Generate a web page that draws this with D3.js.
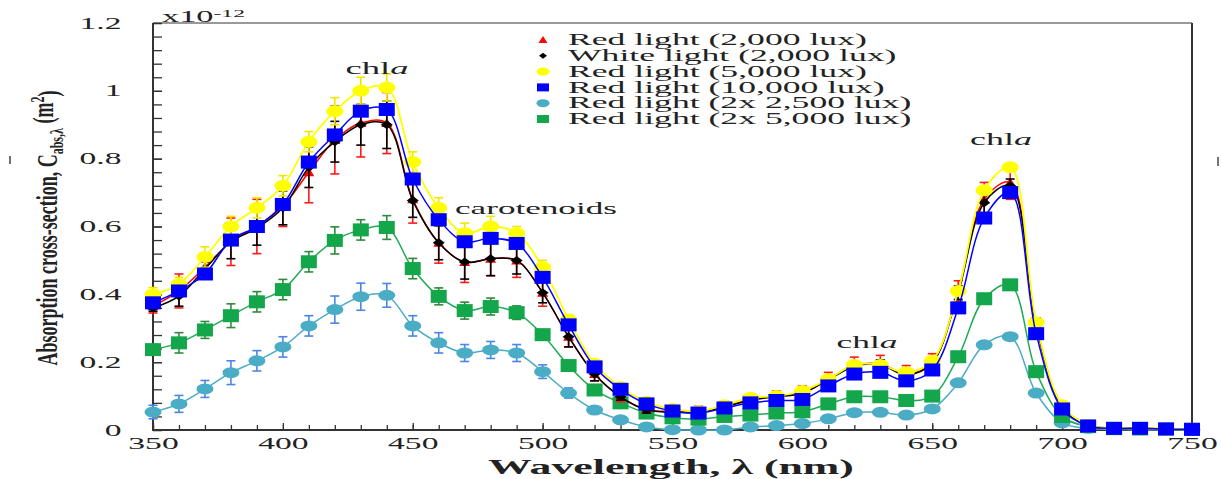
<!DOCTYPE html>
<html>
<head>
<meta charset="utf-8">
<script src="https://cdn.jsdelivr.net/npm/d3@7"></script>
<style>
  body { margin: 0; background: #fff; }
  text { font-family: "Liberation Serif", "Times New Roman", serif; fill: #222; }
</style>
</head>
<body>
<svg id="chart" width="1221" height="479"></svg>
<script>
// wavelengths (nm)
const wavelengths = [350,360,370,380,390,400,410,420,430,440,450,460,470,480,490,500,510,520,530,540,
  550,560,570,580,590,600,610,620,630,640,650,660,670,680,690,700,710,720,730,740,750];

// absorption cross-section, x10^-12 m^2
const red2000 = [0.365,0.41,0.48,0.555,0.60,0.66,0.76,0.855,0.905,0.905,0.68,0.552,0.495,0.505,0.50,0.405,0.275,0.165,0.098,0.06,
  0.055,0.055,0.07,0.09,0.10,0.11,0.15,0.19,0.195,0.165,0.20,0.41,0.68,0.73,0.31,0.07,0.015,0.006,0.005,0.004,0.003];
const white2000 = [0.36,0.395,0.475,0.555,0.595,0.655,0.775,0.85,0.90,0.90,0.677,0.552,0.495,0.505,0.50,0.405,0.275,0.165,0.098,0.06,
  0.052,0.052,0.068,0.088,0.098,0.108,0.148,0.188,0.192,0.162,0.198,0.405,0.67,0.72,0.31,0.068,0.014,0.005,0.004,0.003,0.002];
const red5000 = [0.40,0.43,0.51,0.60,0.655,0.72,0.85,0.94,1.0,1.01,0.79,0.655,0.58,0.60,0.58,0.48,0.325,0.195,0.127,0.083,
  0.062,0.055,0.073,0.095,0.10,0.115,0.15,0.192,0.192,0.17,0.204,0.41,0.707,0.775,0.317,0.073,0.015,0.006,0.005,0.004,0.003];
const red10000 = [0.375,0.41,0.46,0.56,0.60,0.665,0.79,0.87,0.94,0.945,0.74,0.62,0.555,0.565,0.55,0.45,0.31,0.186,0.12,0.077,
  0.056,0.05,0.065,0.08,0.087,0.09,0.13,0.165,0.17,0.145,0.177,0.36,0.625,0.70,0.284,0.062,0.012,0.005,0.005,0.003,0.002];
const red2x2500 = [0.053,0.077,0.121,0.169,0.204,0.245,0.307,0.355,0.393,0.397,0.307,0.257,0.227,0.236,0.227,0.172,0.109,0.059,0.03,0.009,
  0.001,0.0,0.0,0.009,0.013,0.019,0.033,0.051,0.052,0.044,0.062,0.139,0.251,0.275,0.109,0.021,0.005,0.002,0.001,0.001,0.0];
const red2x5000 = [0.237,0.257,0.295,0.337,0.378,0.414,0.496,0.559,0.59,0.597,0.476,0.394,0.352,0.364,0.346,0.281,0.19,0.118,0.08,0.05,
  0.036,0.032,0.04,0.044,0.05,0.054,0.077,0.098,0.098,0.087,0.10,0.216,0.387,0.428,0.172,0.04,0.01,0.004,0.003,0.003,0.002];

// error bar half-widths
const red2000Err = [0.02,0.05,0.03,0.07,0.08,0.06,0.09,0.1,0.1,0.09,0.07,0.06,0.06,0.05,0.05,0.04,0.03,0.02,0.015,0.01,
  0.01,0.015,0.015,0.015,0.015,0.02,0.02,0.025,0.025,0.025,0.025,0.03,0.05,0.05,0.02,0.01,0.005,0.005,0.005,0.005,0.003];
const white2000Err = [0.01,0.03,0.02,0.05,0.05,0.05,0.06,0.06,0.06,0.07,0.05,0.05,0.05,0.05,0.04,0.03,0.03,0.02,0.01,0.01,
  0.01,0.01,0.01,0.01,0.01,0.01,0.01,0.015,0.015,0.01,0.01,0.02,0.03,0.02,0.02,0.01,0.005,0.005,0.005,0.005,0.003];
const red5000Err = [0.02,0.02,0.03,0.03,0.03,0.03,0.03,0.04,0.04,0.04,0.03,0.03,0.03,0.03,0.02,0.02,0.015,0.01,0.01,0.01,
  0.01,0.01,0.01,0.01,0.01,0.01,0.01,0.01,0.01,0.01,0.01,0.01,0.01,0.01,0.01,0.01,0.005,0.005,0.005,0.005,0.003];
const red10000Err = [0,0,0,0,0,0,0,0,0,0,0,0,0,0,0,0,0,0,0,0,
  0,0,0,0,0,0,0,0,0,0,0,0,0,0,0,0,0,0,0.01,0,0];
const red2x2500Err = [0.02,0.025,0.025,0.035,0.03,0.03,0.03,0.04,0.04,0.035,0.03,0.03,0.025,0.025,0.025,0.02,0.015,0.01,0,0,
  0,0,0,0,0,0,0,0,0,0,0,0,0,0,0,0,0,0,0,0,0];
const red2x5000Err = [0.01,0.03,0.025,0.035,0.03,0.03,0.03,0.04,0.03,0.035,0.03,0.025,0.025,0.025,0.02,0.015,0.01,0,0,0,
  0,0,0,0,0,0,0,0,0,0,0,0,0,0,0,0,0,0,0,0,0];

const legendLabels = ['Red light (2,000 lux)','White light (2,000 lux)','Red light (5,000 lux)',
  'Red light (10,000 lux)','Red light (2x 2,500 lux)','Red light (2x 5,000 lux)'];
const yTicks = [0,0.2,0.4,0.6,0.8,1,1.2];
const xTicks = [350,400,450,500,550,600,650,700,750];

const series = [
  { name: legendLabels[4], values: red2x2500, err: red2x2500Err, line: '#4bacc6', bar: '#4a86e8', fill: '#4bacc6', shape: 'ellipseS' },
  { name: legendLabels[5], values: red2x5000, err: red2x5000Err, line: '#1fab55', bar: '#2e8b3a', fill: '#14a64a', shape: 'rect' },
  { name: legendLabels[0], values: red2000, err: red2000Err, line: '#ff0000', bar: '#ff1a1a', fill: '#ff0000', shape: 'triangle' },
  { name: legendLabels[1], values: white2000, err: white2000Err, line: '#000000', bar: '#000000', fill: '#000000', shape: 'diamond' },
  { name: legendLabels[2], values: red5000, err: red5000Err, line: '#ffff00', bar: '#f2e600', fill: '#ffff00', shape: 'ellipse' },
  { name: legendLabels[3], values: red10000, err: red10000Err, line: '#0000ff', bar: '#0000ff', fill: '#0000ff', shape: 'rect' }
];

const svg = d3.select('#chart');
const x = d3.scaleLinear().domain([350, 750]).range([153, 1192]);
const y = d3.scaleLinear().domain([0, 1.2]).range([430, 23]);

// stretch a text horizontally (the figure is stretched wide)
function stretch(t, target) {
  let w = t.node().getBBox().width;
  let k = target / w;
  t.attr('transform', `scale(${k},1)`);
  return k;
}

// frame
svg.append('line').attr('x1', 153).attr('x2', 1192).attr('y1', 23).attr('y2', 23)
   .attr('stroke', '#777').attr('stroke-width', 1.5);
svg.append('line').attr('x1', 1192).attr('x2', 1192).attr('y1', 23).attr('y2', 430)
   .attr('stroke', '#333').attr('stroke-width', 2);

// y axis (ticks point inside)
let yMinor = svg.append('g').attr('transform', 'translate(153,0)')
  .call(d3.axisLeft(y).tickValues(d3.range(0, 31).map(i => i * 0.04)).tickSize(-9).tickFormat(''));
yMinor.select('.domain').remove();
yMinor.selectAll('line').attr('stroke', '#333').attr('stroke-width', 1.3);

let yAxis = svg.append('g').attr('transform', 'translate(153,0)')
  .call(d3.axisLeft(y).tickValues(yTicks).tickSize(-9).tickPadding(15)
          .tickFormat(d => String(+d.toFixed(1))));
yAxis.select('.domain').remove();
yAxis.selectAll('line').attr('stroke', '#333').attr('stroke-width', 1.3);
yAxis.selectAll('text').attr('font-size', 16).style('font-family', '"Liberation Serif", serif').attr('fill', '#333')
     .attr('transform', 'scale(2.1,1)');

// x axis
let xMinor = svg.append('g').attr('transform', 'translate(0,430)')
  .call(d3.axisBottom(x).tickValues(wavelengths).tickSize(-5).tickFormat(''));
xMinor.select('.domain').remove();
xMinor.selectAll('line').attr('stroke', '#333').attr('stroke-width', 1.3);

let xAxis = svg.append('g').attr('transform', 'translate(0,430)')
  .call(d3.axisBottom(x).tickValues(xTicks).tickSize(-7).tickPadding(8).tickFormat(d3.format('d')));
xAxis.select('.domain').remove();
xAxis.selectAll('line').attr('stroke', '#333').attr('stroke-width', 1.3);
xAxis.selectAll('text').attr('font-size', 16).style('font-family', '"Liberation Serif", serif').attr('fill', '#333')
     .attr('transform', 'scale(2.1,1)');

svg.append('line').attr('x1', 153).attr('x2', 153).attr('y1', 23).attr('y2', 431)
   .attr('stroke', '#333').attr('stroke-width', 2);
svg.append('line').attr('x1', 152).attr('x2', 1193).attr('y1', 430).attr('y2', 430)
   .attr('stroke', '#333').attr('stroke-width', 2);

// series
const lineGen = d3.line().x((d, i) => x(wavelengths[i])).y(d => y(d)).curve(d3.curveCatmullRom.alpha(0.5));

function drawMarker(g, shape, fill) {
  if (shape === 'triangle') g.append('path').attr('d', 'M0,-5L5.5,4L-5.5,4Z').attr('fill', fill);
  else if (shape === 'diamond') g.append('path').attr('d', 'M0,-4.5L6,0L0,4.5L-6,0Z').attr('fill', fill);
  else if (shape === 'ellipse') g.append('ellipse').attr('rx', 8.5).attr('ry', 6).attr('fill', fill);
  else if (shape === 'ellipseS') g.append('ellipse').attr('rx', 8.5).attr('ry', 5.5).attr('fill', fill);
  else g.append('rect').attr('x', -8).attr('y', -6.5).attr('width', 16).attr('height', 13).attr('fill', fill);
}

series.forEach(s => {
  let g = svg.append('g');
  g.append('path').attr('d', lineGen(s.values)).attr('fill', 'none')
   .attr('stroke', s.line).attr('stroke-width', s.line === '#ffff00' ? 1.8 : 1.5);

  let bars = g.selectAll('g.bar').data(s.values.map((v, i) => ({ v, e: s.err[i], w: wavelengths[i] })).filter(d => d.e > 0))
    .enter().append('g');
  bars.append('line').attr('x1', d => x(d.w)).attr('x2', d => x(d.w))
      .attr('y1', d => y(d.v - d.e)).attr('y2', d => y(d.v + d.e))
      .attr('stroke', s.bar).attr('stroke-width', 1.6);
  [-1, 1].forEach(sign => {
    bars.append('line').attr('x1', d => x(d.w) - 4.5).attr('x2', d => x(d.w) + 4.5)
        .attr('y1', d => y(d.v + sign * d.e)).attr('y2', d => y(d.v + sign * d.e))
        .attr('stroke', s.bar).attr('stroke-width', 1.6);
  });

  g.selectAll('g.mk').data(s.values).enter().append('g')
   .attr('transform', (d, i) => `translate(${x(wavelengths[i])},${y(d)})`)
   .each(function () { drawMarker(d3.select(this), s.shape, s.fill); });
});

// legend
const legendOrder = [2, 3, 4, 5, 0, 1];
let legendK = null;
legendOrder.forEach((si, row) => {
  let s = series[si];
  let ly = 40 + row * 15.8;
  let mg = svg.append('g').attr('transform', `translate(543,${ly})`);
  if (s.shape === 'rect') mg.append('rect').attr('x', -6).attr('y', -4).attr('width', 12).attr('height', 8).attr('fill', s.fill);
  else if (s.shape === 'triangle') mg.append('path').attr('d', 'M0,-4L4.5,3L-4.5,3Z').attr('fill', s.fill);
  else if (s.shape === 'diamond') mg.append('path').attr('d', 'M0,-3L4,0L0,3L-4,0Z').attr('fill', s.fill);
  else mg.append('ellipse').attr('rx', 6.5).attr('ry', 4).attr('fill', s.fill);

  let tg = svg.append('g').attr('transform', `translate(568,${ly})`);
  let t = tg.append('text').attr('dy', '0.33em').attr('font-size', 16).text(s.name);
  if (legendK === null) legendK = stretch(t, 299);
  else t.attr('transform', `scale(${legendK},1)`);
});

// annotations
function chla(cx, cy, w) {
  let g = svg.append('g').attr('transform', `translate(${cx},${cy})`);
  let t = g.append('text').attr('text-anchor', 'middle').attr('dy', '0.33em').attr('font-size', 17);
  t.append('tspan').text('chl');
  t.append('tspan').attr('font-style', 'italic').text('a');
  stretch(t, w);
}
chla(377, 68, 63);
chla(867, 342, 61);
chla(1001, 139, 62);

let carG = svg.append('g').attr('transform', 'translate(455,208)');
stretch(carG.append('text').attr('dy', '0.33em').attr('font-size', 17).text('carotenoids'), 162);

// exponent
let expG = svg.append('g').attr('transform', 'translate(162,17)');
let expT = expG.append('text').attr('dy', '0.33em').attr('font-size', 16);
expT.append('tspan').text('x10');
expT.append('tspan').attr('font-size', 11).attr('dy', '-0.5em').text('-12');
stretch(expT, 83);

// axis titles
let xtG = svg.append('g').attr('transform', 'translate(671,467)');
stretch(xtG.append('text').attr('text-anchor', 'middle').attr('dy', '0.33em')
  .attr('font-size', 22).attr('font-weight', 'bold').text('Wavelength, λ (nm)'), 366);

let ytG = svg.append('g').attr('transform', 'translate(47,228) rotate(-90)');
let ytT = ytG.append('text').attr('text-anchor', 'middle').attr('dy', '0.33em')
  .attr('font-size', 18).attr('font-weight', 'bold');
ytT.append('tspan').text('Absorption cross-section, C');
ytT.append('tspan').attr('font-size', 12).attr('dy', '0.35em').text('abs,λ');
ytT.append('tspan').attr('dy', '-0.35em').text(' (m');
ytT.append('tspan').attr('font-size', 12).attr('dy', '-0.5em').text('2');
ytT.append('tspan').attr('dy', '0.5em').text(')');
let ytw = ytT.node().getBBox().width;
ytT.attr('transform', `scale(${275 / ytw},1.6)`);

// stray overline marks from the original figure
svg.append('line').attr('x1', 10).attr('x2', 10).attr('y1', 156).attr('y2', 164).attr('stroke', '#444').attr('stroke-width', 1.5);
svg.append('line').attr('x1', 1218).attr('x2', 1218).attr('y1', 157).attr('y2', 166).attr('stroke', '#444').attr('stroke-width', 1.5);
</script>
</body>
</html>
